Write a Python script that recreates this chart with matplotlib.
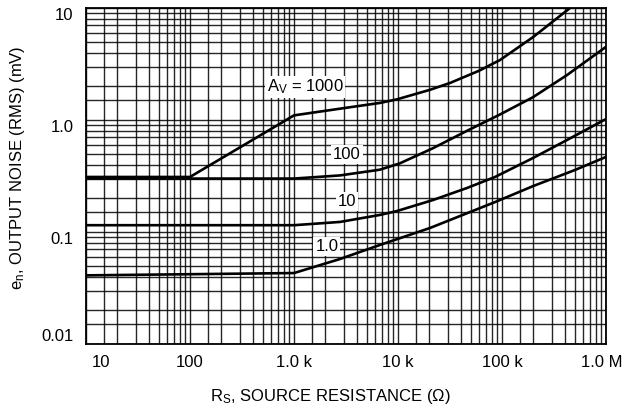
import matplotlib
matplotlib.use("Agg")
import matplotlib.pyplot as plt
from matplotlib.ticker import FixedLocator, NullFormatter
import matplotlib.transforms as mtransforms

plt.rcParams['font.family'] = ['Liberation Sans', 'DejaVu Sans']
plt.rcParams['mathtext.default'] = 'regular'

# Data (source resistance in ohms, output noise in mV)
rs_1000 = [10, 100, 1000, 3450, 6700, 9800, 20300, 31600, 60000, 95600, 199000, 451000]
en_1000 = [0.31, 0.31, 1.10, 1.30, 1.42, 1.53, 1.86, 2.14, 2.75, 3.43, 5.5, 10.0]

rs_100 = [10, 1000, 2770, 6700, 10400, 21700, 46000, 95600, 199000, 422000, 1000000]
en_100 = [0.30, 0.30, 0.32, 0.36, 0.41, 0.56, 0.80, 1.12, 1.60, 2.52, 4.5]

rs_10 = [10, 1000, 2770, 6700, 9800, 21700, 46000, 85700, 199000, 422000, 1000000]
en_10 = [0.115, 0.115, 0.123, 0.142, 0.154, 0.193, 0.247, 0.31, 0.458, 0.663, 1.02]

rs_1 = [10, 1000, 2770, 6700, 20300, 85700, 199000, 504000, 1000000]
en_1 = [0.041, 0.043, 0.0574, 0.0766, 0.1086, 0.185, 0.257, 0.358, 0.468]

x_ticks = [10, 100, 1000, 10000, 100000, 1000000]
x_labels = ['10', '100', '1.0 k', '10 k', '100 k', '1.0 M']
y_ticks = [0.01, 0.1, 1.0, 10]
y_labels = ['0.01', '0.1', '1.0', '10']
minor_mult = [1.5, 2, 3, 4, 5, 6, 7, 8, 9]

W, H = 622, 412
fig = plt.figure(figsize=(W / 100, H / 100), dpi=100)
ax = fig.add_axes([86 / W, 1 - 344 / H, 520 / W, 336 / H])
ax.set_xscale('log')
ax.set_yscale('log')
ax.set_xlim(10, 1e6)
ax.set_ylim(0.01, 10)

xminor = [m * d for d in [10, 100, 1000, 10000, 100000] for m in minor_mult]
yminor = [m * d for d in [0.01, 0.1, 1.0] for m in minor_mult]
ax.xaxis.set_major_locator(FixedLocator(x_ticks))
ax.yaxis.set_major_locator(FixedLocator(y_ticks))
ax.xaxis.set_minor_locator(FixedLocator(xminor))
ax.yaxis.set_minor_locator(FixedLocator(yminor))
ax.xaxis.set_minor_formatter(NullFormatter())
ax.yaxis.set_minor_formatter(NullFormatter())
ax.set_xticklabels(x_labels)
ax.set_yticklabels(y_labels)

ax.grid(True, which='both', color='black', linewidth=1.0, alpha=0.85)
ax.set_axisbelow(True)
ax.tick_params(which='both', length=0)
ax.tick_params(axis='x', labelsize=12, pad=8)
ax.tick_params(axis='y', labelsize=12, pad=9)
for s in ax.spines.values():
    s.set_linewidth(1.3)
    s.set_color('black')

# label alignment tweaks similar to reference
xl = ax.get_xticklabels()
xl[0].set_horizontalalignment('left')
xl[0].set_transform(xl[0].get_transform() + mtransforms.ScaledTranslation(6 / 100, 0, fig.dpi_scale_trans))
xl[-1].set_transform(xl[-1].get_transform() + mtransforms.ScaledTranslation(-4 / 100, 0, fig.dpi_scale_trans))
yl = ax.get_yticklabels()
for i, t in enumerate(yl):
    if i == 0:
        t.set_verticalalignment('bottom')
    else:
        t.set_verticalalignment('top')

lw = 1.9
for rs, en in [(rs_1000, en_1000), (rs_100, en_100), (rs_10, en_10), (rs_1, en_1)]:
    ax.plot(rs, en, color='black', lw=lw, solid_joinstyle='round', zorder=3)

box = dict(facecolor='white', edgecolor='none', pad=1.5)
ax.text(0.421, 0.765, 'A$_V$ = 1000', transform=ax.transAxes, ha='center', va='center',
        fontsize=12, bbox=box, zorder=4)
ax.text(0.502, 0.565, '100', transform=ax.transAxes, ha='center', va='center',
        fontsize=12, bbox=box, zorder=4)
ax.text(0.502, 0.423, '10', transform=ax.transAxes, ha='center', va='center',
        fontsize=12, bbox=box, zorder=4)
ax.text(0.463, 0.289, '1.0', transform=ax.transAxes, ha='center', va='center',
        fontsize=12, bbox=box, zorder=4)

fig.text(330 / W, 1 - 397 / H, 'R$_S$, SOURCE RESISTANCE (Ω)', ha='center', va='center', fontsize=12)
fig.text(18 / W, 1 - 168 / H, 'e$_n$, OUTPUT NOISE (RMS) (mV)', ha='center', va='center',
         rotation=90, fontsize=12)

fig.savefig('out.png', dpi=100)
